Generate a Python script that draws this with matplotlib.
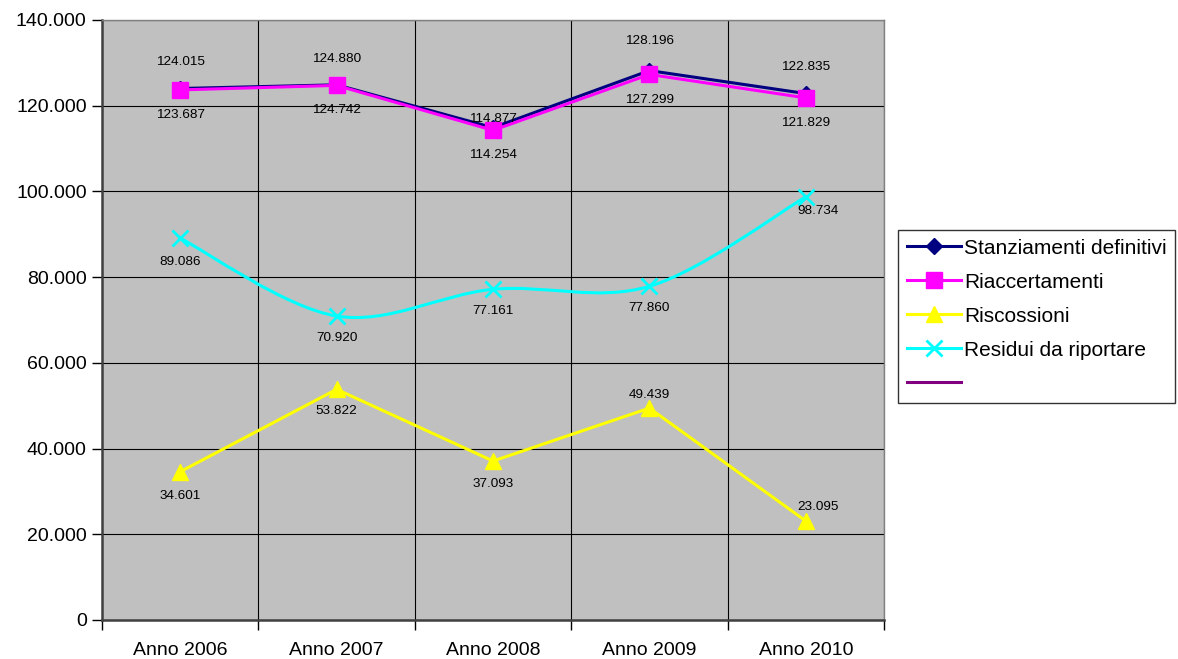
import numpy as np
import matplotlib
matplotlib.use('Agg')
import matplotlib.pyplot as plt
from matplotlib.path import Path
from matplotlib.patches import PathPatch
from matplotlib.lines import Line2D
from matplotlib.ticker import FuncFormatter, MultipleLocator

plt.rcParams['font.family'] = ['Liberation Sans', 'DejaVu Sans']

anni = ['Anno 2006', 'Anno 2007', 'Anno 2008', 'Anno 2009', 'Anno 2010']
stanziamenti = [124015, 124880, 114877, 128196, 122835]
riaccertamenti = [123687, 124742, 114254, 127299, 121829]
riscossioni = [34601, 53822, 37093, 49439, 23095]
residui = [89086, 70920, 77161, 77860, 98734]

# label offsets in pixels (dx, dy), positive dy = up
off_stanz = [(0, 27), (0, 26), (0, 9), (0, 30), (0, 27)]
off_riacc = [(0, -25), (0, -25), (0, -25), (0, -26), (0, -25)]
off_risc = [(0, -24), (0, -22), (0, -23), (0, 13), (12, 14)]
off_resid = [(0, -24), (0, -22), (0, -22), (0, -22), (12, -14)]

def fmt(v, pos=None):
	return '{:,.0f}'.format(v).replace(',', '.')

def smooth_path(x, y):
	# catmull-rom -> cubic bezier, like excel smoothed lines
	x = list(x)
	y = list(y)
	n = len(x)
	verts = [(x[0], y[0])]
	codes = [Path.MOVETO]
	for i in range(n-1):
		i0 = max(i-1, 0)
		i3 = min(i+2, n-1)
		c1 = (x[i] + (x[i+1]-x[i0])/6.0, y[i] + (y[i+1]-y[i0])/6.0)
		c2 = (x[i+1] - (x[i3]-x[i])/6.0, y[i+1] - (y[i3]-y[i])/6.0)
		verts += [c1, c2, (x[i+1], y[i+1])]
		codes += [Path.CURVE4]*3
	return Path(verts, codes)

fig = plt.figure(figsize=(11.78, 6.59), dpi=100)
ax = fig.add_axes([102/1178, 1-620/659, (884-102)/1178, 600/659])
ax.set_facecolor('#C0C0C0')

x = np.arange(len(anni))
lw = 2.2

ax.plot(x, stanziamenti, color='#000080', lw=lw, marker='D', ms=8, zorder=4)
ax.plot(x, riaccertamenti, color='#FF00FF', lw=lw, marker='s', ms=11, zorder=5)
ax.plot(x, riscossioni, color='#FFFF00', lw=lw, marker='^', ms=11, zorder=4)
patch = PathPatch(smooth_path(x, residui), facecolor='none', edgecolor='#00FFFF', lw=lw, zorder=4)
ax.add_patch(patch)
ax.plot(x, residui, color='#00FFFF', ls='none', marker='x', ms=11, mew=2, zorder=4)

def labels(vals, offs):
	for xi, v, (dx, dy) in zip(x, vals, offs):
		ax.annotate(fmt(v), (xi, v), xytext=(dx*0.72, dy*0.72), textcoords='offset points',
			ha='center', va='center', fontsize=9.7, color='#000000', zorder=6)

labels(stanziamenti, off_stanz)
labels(riaccertamenti, off_riacc)
labels(riscossioni, off_risc)
labels(residui, off_resid)

ax.set_xlim(-0.5, 4.5)
ax.set_ylim(0, 140000)
ax.yaxis.set_major_locator(MultipleLocator(20000))
ax.yaxis.set_major_formatter(FuncFormatter(fmt))
ax.set_xticks(x)
ax.set_xticklabels(anni)
ax.set_xticks(np.arange(-0.5, 5, 1), minor=True)
ax.tick_params(axis='x', which='major', length=0, pad=16, labelsize=14)
ax.tick_params(axis='x', which='minor', length=7, direction='out', width=1)
ax.tick_params(axis='y', length=7, direction='out', width=1, labelsize=14, pad=4)

ax.grid(True, axis='y', which='major', color='black', lw=0.8)
ax.grid(True, axis='x', which='minor', color='black', lw=0.8)
ax.set_axisbelow(True)
for s in ['top', 'right']:
	ax.spines[s].set_color('#808080')
	ax.spines[s].set_linewidth(1)
for s in ['left', 'bottom']:
	ax.spines[s].set_color('#404040')
	ax.spines[s].set_linewidth(1.8)

handles = [
	Line2D([], [], color='#000080', lw=lw, marker='D', ms=8),
	Line2D([], [], color='#FF00FF', lw=lw, marker='s', ms=11),
	Line2D([], [], color='#FFFF00', lw=lw, marker='^', ms=11),
	Line2D([], [], color='#00FFFF', lw=lw, marker='x', ms=11, mew=2),
	Line2D([], [], color='#800080', lw=lw),
]
names = ['Stanziamenti definitivi', 'Riaccertamenti', 'Riscossioni', 'Residui da riportare', ' ']
leg = fig.legend(handles, names, loc='upper left', bbox_to_anchor=(898/1178, 1-230/659),
	fontsize=15, frameon=True, fancybox=False, edgecolor='black', handlelength=2.6,
	handletextpad=0.15, borderpad=0.42, labelspacing=0.72, borderaxespad=0)
leg.get_frame().set_linewidth(1)

fig.savefig('out.png', dpi=100)
